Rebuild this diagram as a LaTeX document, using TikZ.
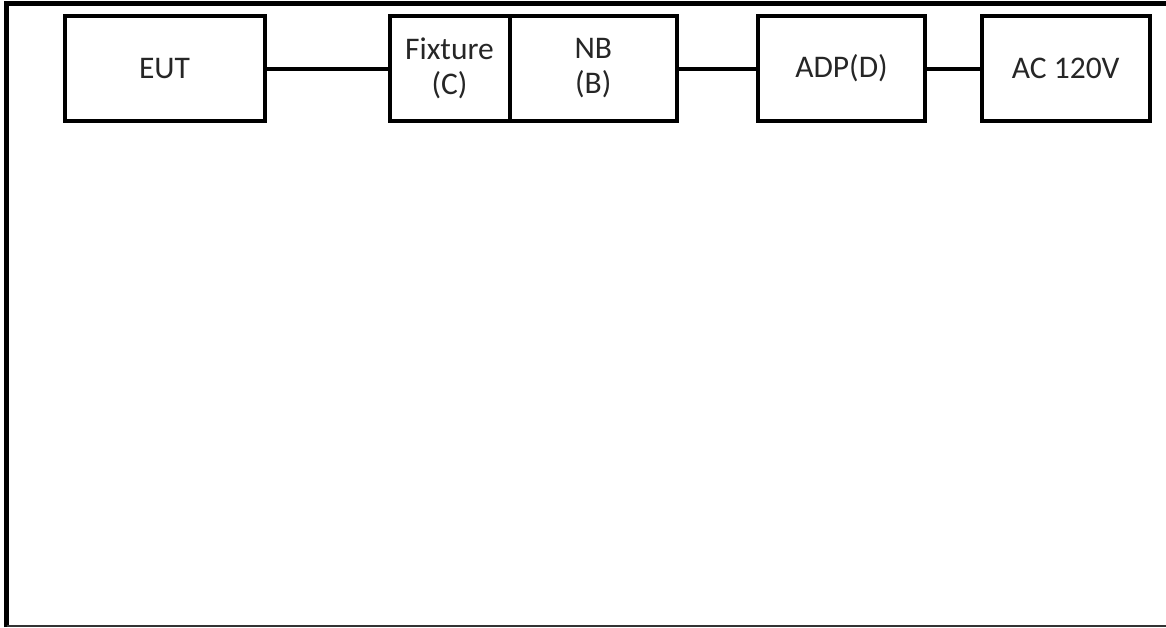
\documentclass[tikz,border=0pt]{standalone}
\usepackage{fontspec}
\setmainfont{Carlito}
\begin{document}
\begin{tikzpicture}[x=1pt,y=-1pt,
  blk/.style={draw=black,line width=4pt,rectangle,inner sep=0pt,minimum height=105pt,
    align=center,font=\fontsize{31.5}{35}\selectfont,text=black!85},
  wire/.style={draw=black,line width=4pt}]
\useasboundingbox (0,0) rectangle (1166,627);
% outer frame
\draw[line width=4.5pt] (6.5,627) -- (6.5,3.3) -- (1170,3.3);
\draw[line width=1.5pt,black!80] (6.5,626.2) -- (1170,626.2);
% blocks
\node[blk,minimum width=200pt] (eut) at (164.5,68.5) {EUT};
\node[blk,minimum width=120pt] (fix) at (449.5,68.5) {Fixture\\(C)};
\node[blk,minimum width=167.5pt] (nb) at (593.25,68.5) {NB\\(B)};
\node[blk,minimum width=167pt] (adp) at (841.5,68.5) {ADP(D)};
\node[blk,minimum width=167.5pt] (ac) at (1065.75,68.5) {AC 120V};
% connectors
\draw[wire] (eut.east) -- (fix.west);
\draw[wire] (nb.east) -- (adp.west);
\draw[wire] (adp.east) -- (ac.west);
\end{tikzpicture}
\end{document}
